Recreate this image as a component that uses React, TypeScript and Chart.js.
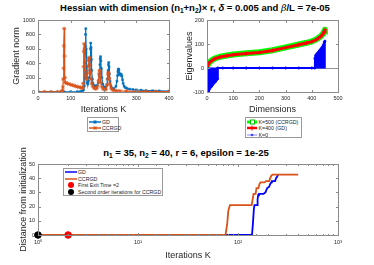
import React, { useEffect, useRef } from 'react';
import { Chart, registerables } from 'chart.js';
Chart.register(...registerables);

const FONT = "'Liberation Sans', Arial, Helvetica, sans-serif";
const TXT = '#262626';
const AX = '#8a8a8a';

// ---------- Top-left: gradient norm vs iterations ----------
const GD_ITER = [0, 20, 40, 60, 80, 100, 120, 130, 136, 139, 141, 142, 143, 144, 145, 146, 147, 148, 149, 150, 152, 154, 156, 158, 159, 160, 161, 162, 163, 164, 166, 168, 172, 176, 180, 184, 187, 189, 190, 191, 192, 193, 195, 198, 202, 206, 210, 212, 214, 215, 216, 217, 218, 220, 223, 227, 232, 238, 241, 243, 244, 245, 246, 247, 248, 250, 252, 254, 256, 258, 260, 263, 267, 272, 280, 290, 300, 315, 330, 350, 370, 400];
const GD_NORM = [1, 1, 1, 1, 2, 3, 5, 8, 15, 30, 80, 200, 400, 640, 800, 880, 600, 350, 200, 130, 110, 150, 200, 300, 450, 600, 680, 620, 450, 300, 180, 120, 90, 80, 90, 130, 250, 380, 460, 490, 430, 330, 200, 110, 70, 60, 90, 180, 300, 380, 410, 350, 250, 150, 80, 50, 45, 80, 150, 230, 280, 310, 320, 300, 260, 240, 250, 245, 220, 170, 120, 80, 60, 50, 40, 35, 30, 25, 20, 18, 15, 12];
const CC_ITER = [0, 20, 40, 60, 70, 73, 75, 76, 77, 78, 79, 80, 81, 82, 83, 85, 90, 95, 100, 105, 110, 115, 120, 125, 130, 135, 137, 138, 139, 140, 141, 142, 143, 144, 145, 147, 149, 151, 153, 155, 156, 157, 158, 160, 162, 164, 167, 171, 175, 179, 182, 185, 187, 188, 189, 190, 192, 195, 199, 204, 208, 211, 213, 214, 215, 216, 218, 220, 223, 227, 233, 240, 250, 270, 300, 330, 360, 400];
const CC_NORM = [1, 1, 1, 2, 3, 8, 25, 70, 180, 330, 640, 880, 500, 200, 135, 125, 118, 110, 102, 95, 88, 80, 74, 68, 62, 55, 60, 120, 350, 560, 670, 600, 420, 300, 230, 180, 190, 260, 360, 440, 480, 460, 380, 280, 180, 120, 80, 55, 45, 50, 80, 160, 250, 300, 280, 210, 130, 70, 40, 30, 40, 100, 180, 240, 270, 260, 190, 110, 55, 30, 20, 18, 15, 12, 10, 8, 7, 5];

// ---------- Top-right: eigenvalues vs dimensions ----------
const EIG_DIM = [1, 5, 10, 20, 30, 50, 75, 100, 150, 200, 250, 300, 350, 380, 400, 415, 425, 435, 442, 447, 450];
const EIG_K500_CCRGD = [8, 18, 25, 33, 40, 47, 52, 56, 61, 66, 74, 86, 98, 105, 111, 118, 125, 133, 142, 152, 162];
const EIG_K400_GD = [6, 16, 24, 32, 39, 46, 51, 55, 60, 65, 73, 85, 97, 104, 110, 117, 124, 132, 141, 151, 160];
const K0_DIM = [1, 4, 7, 10, 13, 16, 19, 22, 25, 28, 31, 34, 37, 40, 41, 60, 100, 150, 200, 250, 300, 350, 400, 411, 412, 415, 418, 421, 424, 427, 430, 433, 436, 439, 442, 445, 448, 450];
const K0_EIG = [-110, -100, -92, -86, -80, -76, -72, -68, -64, -60, -56, -52, -48, -45, 0, 0, 0, 0, 0, 0, 0, 0, 0, 0, 40, 52, 56, 60, 64, 68, 72, 76, 80, 85, 90, 97, 108, 112];

// ---------- Bottom: distance from initialization ----------
const DIST_CC_ITER = [1, 75, 78, 80, 83, 137, 140, 143, 150, 153, 160, 164, 168, 185, 190, 205, 210, 216, 222, 400];
const DIST_CC = [0, 0, 8, 17, 21, 21, 25, 29, 29, 33, 33, 36, 37, 37, 38, 38, 40, 42, 42.5, 42.5];
const DIST_GD_ITER = [1, 138, 141, 144, 146, 155, 157, 159, 162, 180, 188, 193, 196, 205, 210, 215, 218, 235, 240, 246, 252];
const DIST_GD = [0, 0, 8, 18, 21, 21, 25, 28, 29, 29, 30, 32, 33, 34, 36, 37, 38, 38, 40, 41, 42.5];
const FIRST_EXIT_ITER = [2];
const FIRST_EXIT_DIST = [0];
const SECOND_ORDER_ITER = [1];
const SECOND_ORDER_DIST = [0];
const LOG_LABELS: Record<number, string> = { 1: '10\u2070', 10: '10\u00B9', 100: '10\u00B2', 1000: '10\u00B3' };

const pts = (xs: number[], ys: number[]) => xs.map((x, i) => ({ x, y: ys[i] }));

const tickFont = { family: FONT, size: 5.5 };
const titleFont = { family: FONT, size: 9, lineHeight: 1 };

const boxPlugin = {
  id: 'mBox',
  beforeDatasetsDraw(chart: any, _a: any, opts: any) {
    if (!opts || !opts.baseline) return;
    const { ctx, chartArea: a } = chart;
    const y = Math.round(chart.scales.y.getPixelForValue(0)) + 0.5;
    ctx.save();
    ctx.strokeStyle = '#7a7a7a';
    ctx.lineWidth = 0.8;
    ctx.beginPath();
    ctx.moveTo(a.left, y);
    ctx.lineTo(a.right, y);
    ctx.stroke();
    ctx.restore();
  },
  afterDatasetsDraw(chart: any) {
    const { ctx, chartArea: a } = chart;
    ctx.save();
    ctx.strokeStyle = AX;
    ctx.lineWidth = 1;
    const L = Math.round(a.left) + 0.5, R = Math.round(a.right) + 0.5;
    const T = Math.round(a.top) + 0.5, B = Math.round(a.bottom) + 0.5;
    ctx.strokeRect(L, T, R - L, B - T);
    const seg = (x1: number, y1: number, x2: number, y2: number) => {
      ctx.beginPath(); ctx.moveTo(x1, y1); ctx.lineTo(x2, y2); ctx.stroke();
    };
    const xs = chart.scales.x, ys = chart.scales.y;
    xs.ticks.forEach((t: any, i: number) => {
      const p = Math.round(xs.getPixelForTick(i)) + 0.5;
      const major = xs.type !== 'logarithmic' || LOG_LABELS[t.value] !== undefined;
      const len = major ? 2.5 : 1.5;
      seg(p, B, p, B - len);
      seg(p, T, p, T + len);
    });
    ys.ticks.forEach((_t: any, i: number) => {
      const p = Math.round(ys.getPixelForTick(i)) + 0.5;
      seg(L, p, L + 2.5, p);
      seg(R, p, R - 2.5, p);
    });
    ctx.restore();
  },
};

function linAxis(min: number, max: number, step: number, title: string, fit: (s: any) => void) {
  return {
    type: 'linear', min, max, offset: false,
    grid: { display: false, drawTicks: false }, border: { display: false },
    ticks: { stepSize: step, color: TXT, font: tickFont, padding: 3, maxRotation: 0, autoSkip: false,
      callback: (v: any) => String(v) },
    title: { display: true, text: title, color: TXT, font: titleFont, padding: 0 },
    afterFit: fit,
  };
}

const baseOpts = (padding: any, scales: any, baseline = false) => ({
  responsive: false, animation: false, events: [],
  layout: { padding },
  plugins: { legend: { display: false }, tooltip: { enabled: false }, mBox: { baseline } },
  scales,
});

function cfgTopLeft(): any {
  return {
    type: 'scatter',
    data: {
      datasets: [
        { data: pts(CC_ITER, CC_NORM), showLine: true, borderColor: '#D95319', backgroundColor: '#D95319', borderWidth: 1.2, pointStyle: 'star', pointRadius: 2, pointBorderWidth: 0.8, order: 1 },
        { data: pts(GD_ITER, GD_NORM), showLine: true, borderColor: '#0072BD', backgroundColor: '#0072BD', borderWidth: 1.2, pointStyle: 'rect', pointRadius: 1.4, pointBorderWidth: 0.5, order: 2 },
      ],
    },
    options: baseOpts({ left: 12, right: 16, top: 8, bottom: 0 }, {
      x: linAxis(0, 400, 100, 'Iterations K', (s: any) => { s.height = 22; }),
      y: linAxis(0, 1000, 200, 'Gradient norm', (s: any) => { s.width = 26; }),
    }),
    plugins: [boxPlugin],
  };
}

function cfgTopRight(): any {
  return {
    type: 'scatter',
    data: {
      datasets: [
        { data: pts(K0_DIM, K0_EIG), showLine: true, borderColor: '#0000FF', backgroundColor: '#0000FF', borderWidth: 2, pointStyle: 'circle', pointRadius: 1.2, pointBorderWidth: 0.5, order: 0 },
        { type: 'bar', data: pts(K0_DIM, K0_EIG), backgroundColor: '#0000FF', borderWidth: 0, barThickness: 1, grouped: false, order: 1 },
        { data: pts(EIG_DIM, EIG_K400_GD), showLine: true, borderColor: '#FF0000', backgroundColor: '#FF0000', borderWidth: 3, pointStyle: 'cross', pointRadius: 2, pointBorderWidth: 1, order: 2 },
        { data: pts(EIG_DIM, EIG_K500_CCRGD), showLine: true, borderColor: '#00FF00', backgroundColor: '#00FF00', borderWidth: 6, pointStyle: 'rect', pointRadius: 2.5, pointBorderWidth: 1, order: 3 },
      ],
    },
    options: baseOpts({ left: 5.5, right: 36, top: 8, bottom: 0 }, {
      x: linAxis(0, 500, 100, 'Dimensions', (s: any) => { s.height = 22; }),
      y: linAxis(-100, 200, 100, 'Eigenvalues', (s: any) => { s.width = 21.5; }),
    }, true),
    plugins: [boxPlugin],
  };
}

function cfgBottom(): any {
  return {
    type: 'scatter',
    data: {
      datasets: [
        { data: pts(SECOND_ORDER_ITER, SECOND_ORDER_DIST), backgroundColor: '#000000', borderColor: '#000000', pointRadius: 3.3, clip: false, order: 0 },
        { data: pts(FIRST_EXIT_ITER, FIRST_EXIT_DIST), backgroundColor: '#FF0000', borderColor: '#FF0000', pointRadius: 3.3, clip: false, order: 0 },
        { data: pts(DIST_CC_ITER, DIST_CC), showLine: true, borderColor: '#D95319', borderWidth: 1.8, pointRadius: 0, order: 1 },
        { data: pts(DIST_GD_ITER, DIST_GD), showLine: true, borderColor: '#0000FF', borderWidth: 1.8, pointRadius: 0, order: 2 },
      ],
    },
    options: baseOpts({ left: 19, right: 36, top: 24, bottom: 0 }, {
      x: {
        type: 'logarithmic', min: 1, max: 1000, offset: false,
        grid: { display: false, drawTicks: false }, border: { display: false },
        ticks: { color: TXT, font: tickFont, padding: 4, maxRotation: 0, autoSkip: false,
          callback: (v: any) => LOG_LABELS[Number(v)] ?? '' },
        title: { display: true, text: 'Iterations K', color: TXT, font: titleFont, padding: 0 },
        afterFit: (s: any) => { s.height = 25; },
      },
      y: linAxis(0, 50, 10, 'Distance from initialization', (s: any) => { s.width = 19; }),
    }),
    plugins: [boxPlugin],
  };
}

function ChartBox({ left, top, w, h, make }: { left: number; top: number; w: number; h: number; make: () => any }) {
  const ref = useRef<HTMLCanvasElement>(null);
  useEffect(() => {
    const c = new Chart(ref.current as HTMLCanvasElement, make());
    return () => c.destroy();
  }, []);
  return (
    <div style={{ position: 'absolute', left, top, width: w, height: h }}>
      <canvas ref={ref} width={w} height={h} style={{ display: 'block', width: w, height: h }} />
    </div>
  );
}

type Row = { label: string; y: number; sample: React.ReactNode };
function Legend({ x, y, w, h, rows, sw, tx }: { x: number; y: number; w: number; h: number; rows: Row[]; sw: number; tx: number }) {
  return (
    <div style={{ position: 'absolute', left: x, top: y, width: w, height: h, border: '1px solid #9a9a9a', background: '#fff', boxSizing: 'border-box' }}>
      {rows.map((r, i) => (
        <div key={i} style={{ position: 'absolute', left: 0, top: r.y - 4, height: 8, width: '100%' }}>
          <svg style={{ position: 'absolute', left: 1, top: 0 }} width={sw} height={8}>{r.sample}</svg>
          <span style={{ position: 'absolute', left: tx, top: 0, lineHeight: '8px', fontSize: 5.3, whiteSpace: 'nowrap', fontFamily: FONT, color: TXT }}>{r.label}</span>
        </div>
      ))}
    </div>
  );
}

const subS: React.CSSProperties = { fontSize: 6.5, verticalAlign: '-2px', lineHeight: 0 };

export default function App() {
  const star = (cx: number, c: string) => (
    <g stroke={c} strokeWidth={0.8}>
      <line x1={cx - 2} y1={4} x2={cx + 2} y2={4} />
      <line x1={cx} y1={2} x2={cx} y2={6} />
      <line x1={cx - 1.5} y1={2.5} x2={cx + 1.5} y2={5.5} />
      <line x1={cx - 1.5} y1={5.5} x2={cx + 1.5} y2={2.5} />
    </g>
  );
  const titleStyle: React.CSSProperties = { position: 'absolute', left: 0, textAlign: 'center', fontWeight: 'bold', fontSize: 9.5, lineHeight: '10px', fontFamily: FONT, color: '#000', whiteSpace: 'nowrap' };
  return (
    <div style={{ position: 'fixed', left: 0, top: 0, width: 374, height: 265, background: '#fff', overflow: 'hidden' }}>
      <div style={{ ...titleStyle, width: 390, top: 2.5 }}>
        Hessian with dimension (n<sub style={subS}>1</sub>+n<sub style={subS}>2</sub>){'\u00D7'} r, <i>{'\u03B4'}</i> = 0.005 and <i style={{ fontWeight: 'normal', fontFamily: "'DejaVu Serif', serif" }}>{'\u03B2'}</i>/L = 7e-05
      </div>
      <ChartBox left={0} top={12} w={185} h={102} make={cfgTopLeft} />
      <ChartBox left={180} top={12} w={194} h={102} make={cfgTopRight} />
      <div style={{ ...titleStyle, width: 372, top: 147.5 }}>
        n<sub style={subS}>1</sub> = 35, n<sub style={subS}>2</sub> = 40, r = 6, epsilon = 1e-25
      </div>
      <ChartBox left={0} top={140} w={374} h={120} make={cfgBottom} />
      <Legend x={87} y={117} w={32} h={15} sw={13} tx={14} rows={[
        { label: 'GD', y: 3.5, sample: <g><line x1={0} y1={4} x2={12} y2={4} stroke="#0072BD" strokeWidth={1.5} /><rect x={4.5} y={2.5} width={3} height={3} fill="#0072BD" /></g> },
        { label: 'CCRGD', y: 10, sample: <g><line x1={0} y1={4} x2={12} y2={4} stroke="#D95319" strokeWidth={1.5} />{star(6, '#D95319')}</g> },
      ]} />
      <Legend x={245} y={117} w={57} h={21} sw={11} tx={12.5} rows={[
        { label: 'K=500 (CCRGD)', y: 3.5, sample: <g><line x1={0} y1={4} x2={10} y2={4} stroke="#00FF00" strokeWidth={3} /><rect x={3.5} y={2} width={4} height={4} fill="#fff" stroke="#00C000" strokeWidth={1} /></g> },
        { label: 'K=400 (GD)', y: 10, sample: <g><line x1={0} y1={4} x2={10} y2={4} stroke="#FF0000" strokeWidth={2.5} /><line x1={5} y1={1.5} x2={5} y2={6.5} stroke="#FF0000" strokeWidth={1} /></g> },
        { label: 'K=0', y: 16.5, sample: <g><line x1={0} y1={4} x2={10} y2={4} stroke="#8080FF" strokeWidth={1} /><circle cx={5} cy={4} r={1.3} fill="#4040FF" /></g> },
      ]} />
      <Legend x={63} y={168} w={100} h={28} sw={13} tx={14} rows={[
        { label: 'GD', y: 3, sample: <line x1={0} y1={4} x2={12} y2={4} stroke="#0000FF" strokeWidth={1.5} /> },
        { label: 'CCRGD', y: 9.5, sample: <line x1={0} y1={4} x2={12} y2={4} stroke="#D95319" strokeWidth={1.5} /> },
        { label: 'First Exit Time =2', y: 16, sample: <circle cx={6} cy={4} r={3} fill="#FF0000" /> },
        { label: 'Second order iterations for CCRGD', y: 22.5, sample: <circle cx={6} cy={4} r={3} fill="#000000" /> },
      ]} />
    </div>
  );
}
